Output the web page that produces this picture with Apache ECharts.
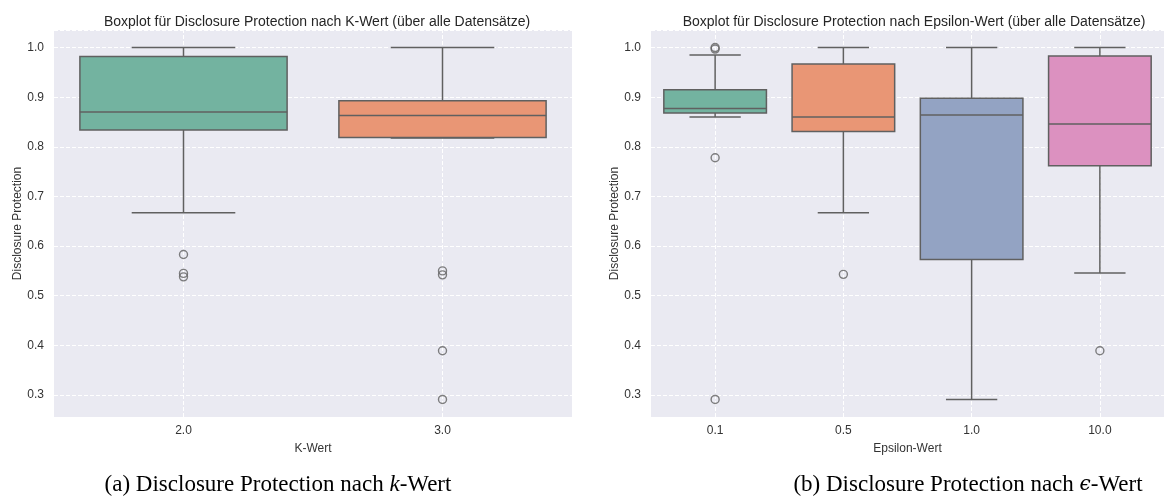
<!DOCTYPE html>
<html>
<head>
<meta charset="utf-8">
<script src="https://cdn.jsdelivr.net/npm/echarts@6/dist/echarts.min.js"></script>
<style>
html,body{margin:0;padding:0;background:#fff;}
#chart{width:1164px;height:504px;}
</style>
</head>
<body>
<div id="chart"></div>
<script>
// ---- data ----
const kCategories = ['2.0', '3.0'];
// [lower whisker, Q1, median, Q3, upper whisker]
const kBoxStats = [
  [0.667, 0.834, 0.870, 0.982, 1.000],
  [0.818, 0.819, 0.863, 0.893, 1.000]
];
const kOutliers = [
  [0.583, 0.545, 0.538],
  [0.550, 0.542, 0.389, 0.291]
];
const epsCategories = ['0.1', '0.5', '1.0', '10.0'];
const epsBoxStats = [
  [0.860, 0.868, 0.877, 0.915, 0.985],
  [0.667, 0.831, 0.860, 0.967, 1.000],
  [0.291, 0.573, 0.864, 0.898, 1.000],
  [0.546, 0.762, 0.846, 0.983, 1.000]
];
const epsOutliers = [
  [1.000, 0.997, 0.778, 0.291],
  [0.543],
  [],
  [0.389]
];
const boxColors = ['#73b3a0', '#e99675', '#93a3c3', '#dc91c0'];
const yMin = 0.2556, yMax = 1.0354;

const FONT = 'Liberation Sans, Arial, sans-serif';
const SERIF = 'Liberation Serif, DejaVu Serif, serif';
const LINE = '#606060';

function boxData(stats) { return stats.map((s, i) => [i].concat(s)); }
function outlierData(outs) {
  const r = [];
  outs.forEach((arr, i) => arr.forEach(v => r.push([i, v])));
  return r;
}

function renderBox(params, api) {
  const x = api.value(0);
  const lo = api.coord([x, api.value(1)]);
  const q1 = api.coord([x, api.value(2)]);
  const md = api.coord([x, api.value(3)]);
  const q3 = api.coord([x, api.value(4)]);
  const hi = api.coord([x, api.value(5)]);
  const band = api.size([1, 0])[0];
  const bw = band * 0.8;
  const cw = bw * 0.5;
  const cx = lo[0];
  const ls = {stroke: LINE, lineWidth: 1.5};
  return {
    type: 'group',
    children: [
      {type: 'line', shape: {x1: cx, y1: q1[1], x2: cx, y2: lo[1]}, style: ls},
      {type: 'line', shape: {x1: cx, y1: q3[1], x2: cx, y2: hi[1]}, style: ls},
      {type: 'line', shape: {x1: cx - cw / 2, y1: lo[1], x2: cx + cw / 2, y2: lo[1]}, style: ls},
      {type: 'line', shape: {x1: cx - cw / 2, y1: hi[1], x2: cx + cw / 2, y2: hi[1]}, style: ls},
      {type: 'rect', shape: {x: cx - bw / 2, y: q3[1], width: bw, height: q1[1] - q3[1]},
        style: {fill: boxColors[params.dataIndex % boxColors.length], stroke: LINE, lineWidth: 1.5}},
      {type: 'line', shape: {x1: cx - bw / 2, y1: md[1], x2: cx + bw / 2, y2: md[1]}, style: ls}
    ]
  };
}

function makeXAxis(idx, cats, name) {
  return {
    type: 'category', gridIndex: idx, data: cats, boundaryGap: true,
    axisLine: {show: false}, axisTick: {show: false},
    splitLine: {show: false},
    axisLabel: {color: '#333', fontFamily: FONT, fontSize: 12, margin: 8},
    name: name, nameLocation: 'middle', nameGap: 26,
    nameTextStyle: {color: '#333', fontFamily: FONT, fontSize: 12}
  };
}
function makeYAxis(idx) {
  return {
    type: 'value', gridIndex: idx, min: yMin, max: yMax, splitNumber: 8,
    axisLine: {show: false}, axisTick: {show: false},
    axisLabel: {color: '#333', fontFamily: FONT, fontSize: 12, margin: 10,
      showMinLabel: false, showMaxLabel: false,
      formatter: v => v.toFixed(1)},
    splitLine: {show: true, lineStyle: {color: '#ffffff', type: 'dashed', width: 1}},
    name: 'Disclosure Protection', nameLocation: 'middle', nameGap: 29, nameRotate: 90,
    nameTextStyle: {color: '#333', fontFamily: FONT, fontSize: 12}
  };
}
function gridLines(cats) {
  return {
    silent: true, symbol: 'none', animation: false, z: 1,
    label: {show: false},
    lineStyle: {color: '#ffffff', type: 'dashed', width: 1},
    data: cats.map(c => ({xAxis: c}))
  };
}

const chart = echarts.init(document.getElementById('chart'), null, {renderer: 'canvas'});
chart.setOption({
  animation: false,
  backgroundColor: '#ffffff',
  title: [
    {text: 'Boxplot für Disclosure Protection nach K-Wert (über alle Datensätze)',
      left: 312, top: 10, textAlign: 'center',
      textStyle: {fontFamily: FONT, fontSize: 14, fontWeight: 'normal', color: '#262626'}},
    {text: 'Boxplot für Disclosure Protection nach Epsilon-Wert (über alle Datensätze)',
      left: 909, top: 10, textAlign: 'center',
      textStyle: {fontFamily: FONT, fontSize: 14, fontWeight: 'normal', color: '#262626'}}
  ],
  grid: [
    {left: 54, top: 30, width: 518, height: 387, show: true, backgroundColor: '#eaeaf2', borderWidth: 0},
    {left: 651, top: 30, width: 518, height: 387, show: true, backgroundColor: '#eaeaf2', borderWidth: 0}
  ],
  xAxis: [makeXAxis(0, kCategories, 'K-Wert'), makeXAxis(1, epsCategories, 'Epsilon-Wert')],
  yAxis: [makeYAxis(0), makeYAxis(1)],
  series: [
    {type: 'scatter', xAxisIndex: 0, yAxisIndex: 0, z: 2, data: outlierData(kOutliers),
      symbol: 'circle', symbolSize: 8,
      itemStyle: {color: 'rgba(0,0,0,0)', borderColor: LINE, borderWidth: 1.4},
      markLine: gridLines(kCategories)},
    {type: 'custom', xAxisIndex: 0, yAxisIndex: 0, z: 10, data: boxData(kBoxStats),
      renderItem: renderBox, encode: {x: 0, y: [1, 2, 3, 4, 5]}},
    {type: 'scatter', xAxisIndex: 1, yAxisIndex: 1, z: 2, data: outlierData(epsOutliers),
      symbol: 'circle', symbolSize: 8,
      itemStyle: {color: 'rgba(0,0,0,0)', borderColor: LINE, borderWidth: 1.4},
      markLine: gridLines(epsCategories)},
    {type: 'custom', xAxisIndex: 1, yAxisIndex: 1, z: 10, data: boxData(epsBoxStats),
      renderItem: renderBox, encode: {x: 0, y: [1, 2, 3, 4, 5]}}
  ],
  graphic: [
    {type: 'text', x: 278, y: 485, silent: true,
      style: {text: '{a|(a) Disclosure Protection nach }{i|k}{a|-Wert}',
        align: 'center', verticalAlign: 'middle',
        rich: {
          a: {fontFamily: SERIF, fontSize: 23, fill: '#000'},
          i: {fontFamily: SERIF, fontSize: 23, fontStyle: 'italic', fill: '#000'}
        }}},
    {type: 'text', x: 968, y: 485, silent: true,
      style: {text: '{a|(b) Disclosure Protection nach }{i|ϵ}{a|-Wert}',
        align: 'center', verticalAlign: 'middle',
        rich: {
          a: {fontFamily: SERIF, fontSize: 23, fill: '#000'},
          i: {fontFamily: 'DejaVu Serif, serif', fontSize: 20, fontStyle: 'italic', fill: '#000'}
        }}}
  ]
});
</script>
</body>
</html>
